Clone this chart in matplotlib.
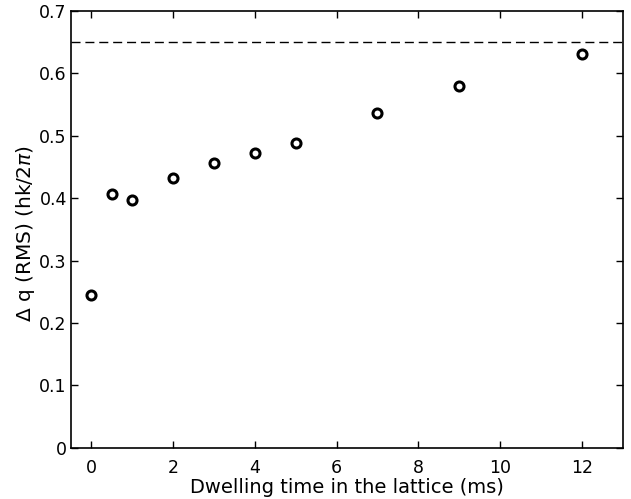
import matplotlib
matplotlib.use("Agg")
import matplotlib.pyplot as plt

time_ms = [0, 0.5, 1, 2, 3, 4, 5, 7, 9, 12]
dq_rms = [0.245, 0.407, 0.397, 0.433, 0.456, 0.472, 0.489, 0.536, 0.580, 0.631]
limit_value = 0.65
xticks = [0, 2, 4, 6, 8, 10, 12]
yticks = [0, 0.1, 0.2, 0.3, 0.4, 0.5, 0.6, 0.7]

plt.rcParams['font.family'] = ['DejaVu Sans']
plt.rcParams['mathtext.fontset'] = 'dejavusans'

fig = plt.figure(figsize=(6.31, 4.99), dpi=100)
ax = fig.add_axes([0.1125, 0.1028, 0.8743, 0.8752])

ax.plot(time_ms, dq_rms, linestyle='none', marker='o', markersize=6.5,
        markerfacecolor='white', markeredgecolor='black', markeredgewidth=2.2)
ax.axhline(limit_value, color='black', linewidth=1, linestyle=(0, (6.5, 3.5)))

ax.set_xlim(-0.5, 13)
ax.set_ylim(0, 0.7)
ax.set_xticks(xticks)
ax.set_yticks(yticks)
ax.set_xticklabels([str(t) for t in xticks])
ax.set_yticklabels(['0'] + [f"{v:.1f}" for v in yticks[1:]])
ax.tick_params(direction='in', top=True, right=True, length=5, width=1,
               labelsize=12.5)
ax.tick_params(axis='x', pad=8)
ax.tick_params(axis='y', pad=3)
for s in ax.spines.values():
    s.set_linewidth(1.2)

ax.set_xlabel('Dwelling time in the lattice (ms)', fontsize=14, labelpad=1)
ax.set_ylabel(r'$\Delta$ q (RMS) (hk/2$\pi$)', fontsize=14.5)
ax.yaxis.set_label_coords(-0.061, 0.49)

fig.savefig('out.png', dpi=100)
